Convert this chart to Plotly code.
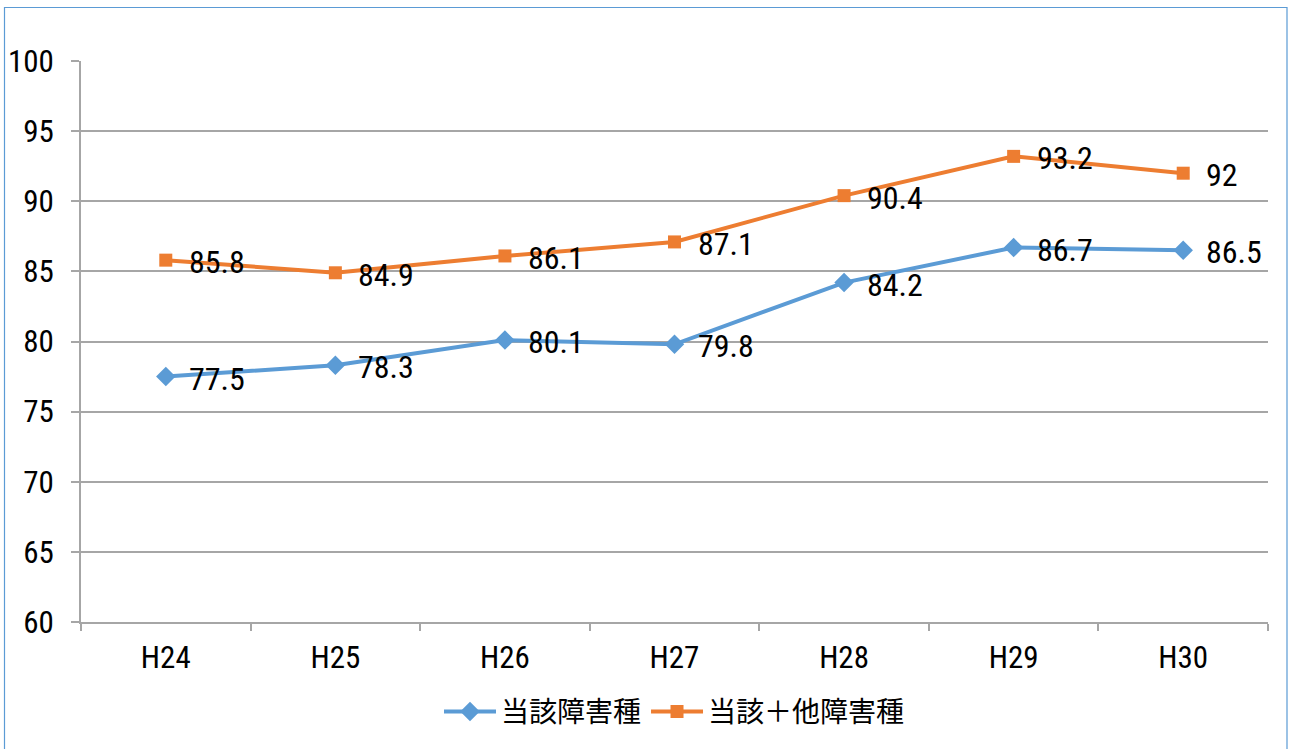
import plotly.graph_objects as go

# Fiscal years (Heisei era)
years = ["H24", "H25", "H26", "H27", "H28", "H29", "H30"]

# Rate by disability category
same_type = [77.5, 78.3, 80.1, 79.8, 84.2, 86.7, 86.5]
same_plus_other = [85.8, 84.9, 86.1, 87.1, 90.4, 93.2, 92.0]

series_names = ["当該障害種", "当該＋他障害種"]

BLUE = "#5B9BD5"
ORANGE = "#ED7D31"
GRID = "#A6A6A6"
NUM_FONT = "Roboto Condensed, sans-serif"
JP_FONT = "Noto Sans CJK JP, sans-serif"

fig = go.Figure()

fig.add_trace(go.Scatter(
    x=years, y=same_type, name=series_names[0], mode="lines+markers",
    line=dict(color=BLUE, width=4),
    marker=dict(symbol="diamond", size=15, color=BLUE),
))
fig.add_trace(go.Scatter(
    x=years, y=same_plus_other, name=series_names[1], mode="lines+markers",
    line=dict(color=ORANGE, width=4),
    marker=dict(symbol="square", size=13, color=ORANGE),
))

# Value labels to the right of each point
for values in (same_type, same_plus_other):
    for yr, v in zip(years, values):
        fig.add_annotation(
            x=yr, y=v, text=f"{v:g}", showarrow=False,
            xanchor="left", yanchor="middle", xshift=21, yshift=-2,
            font=dict(family=NUM_FONT, size=32, color="#000000"),
        )

# Outer chart frame
L, R, T, B = 81, 1268, 61, 622
W, H = R - L, B - T
fig.add_shape(
    type="rect", xref="paper", yref="paper",
    x0=(4.5 - L) / W, x1=(1287 - L) / W,
    y0=(B - 760) / H, y1=(B - 7.5) / H,
    line=dict(color="#5B9BD5", width=1.2), fillcolor="rgba(0,0,0,0)",
    layer="below",
)

fig.update_layout(
    width=1292, height=749,
    margin=dict(l=L, r=1292 - R, t=T, b=749 - B, autoexpand=False),
    paper_bgcolor="white", plot_bgcolor="white",
    showlegend=True,
    legend=dict(
        orientation="h", x=0.5, xanchor="center", y=-0.16, yanchor="middle",
        font=dict(family=JP_FONT, size=28, color="#000000"),
        itemwidth=52, tracegroupgap=0,
    ),
    xaxis=dict(
        type="category", range=[-0.5, 6.5], automargin=False,
        showgrid=False, showline=True, linecolor=GRID, linewidth=2,
        ticks="outside", tickson="boundaries", ticklen=7, tickcolor=GRID, tickwidth=2,
        ticklabelstandoff=7,
        tickfont=dict(family=NUM_FONT, size=31, color="#000000"),
    ),
    yaxis=dict(
        range=[60, 100], dtick=5, tick0=60, automargin=False,
        showgrid=True, gridcolor=GRID, gridwidth=2,
        showline=True, linecolor=GRID, linewidth=2,
        ticks="outside", ticklen=8, tickcolor=GRID, tickwidth=2,
        ticklabelstandoff=11,
        zeroline=False,
        tickfont=dict(family=NUM_FONT, size=31, color="#000000"),
    ),
)

fig.write_html("out.html")
